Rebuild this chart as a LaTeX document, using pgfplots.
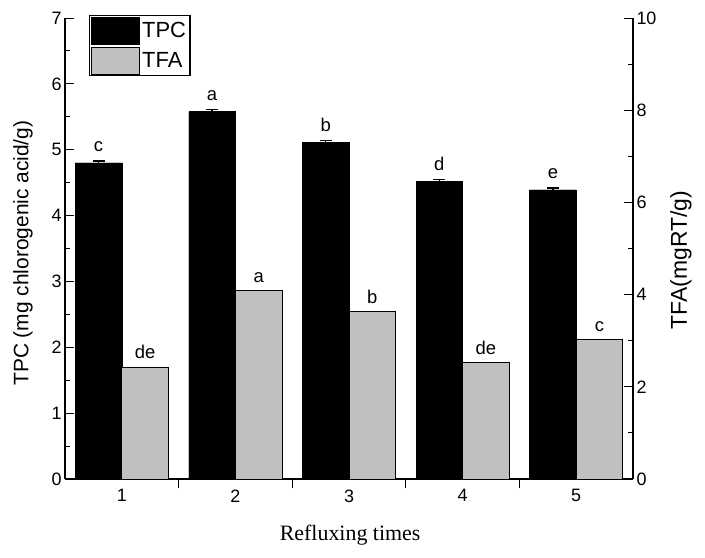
\documentclass[border=0pt]{standalone}
\usepackage{pgfplots}
\pgfplotsset{compat=1.18}
\usepackage{pgfplotstable}
\usepackage{fontspec}
\setmainfont{Liberation Sans}
\newfontfamily\timesfont{Liberation Serif}
\newfontfamily\legfont[Scale=1]{Liberation Sans}
\definecolor{barGray}{RGB}{192,192,192}

\pgfplotstableread{
x y e l
1 4.80 0.03 c
2 5.58 0.03 a
3 5.11 0.03 b
4 4.52 0.03 d
5 4.39 0.03 e
}\tpc
\pgfplotstableread{
x y l
1 2.43 de
2 4.09 a
3 3.64 b
4 2.52 de
5 3.02 c
}\tfa

\pgfplotsset{
  base/.style={
    scale only axis, width=568bp, height=461bp,
    xmin=0.5, xmax=5.5,
    tick align=inside,
    major tick length=9bp, minor tick length=5bp,
    tick style={black, line width=0.9pt},
    axis line style={black, line width=1.1pt},
    ticklabel style={font=\fontsize{18}{18}\selectfont},
    /pgf/number format/assume math mode=true,
    ybar, bar width=0.41,
  }
}

\begin{document}
\begin{tikzpicture}
\useasboundingbox (-65bp,-79bp) rectangle (640bp,479bp);
\begin{axis}[base,
  ymin=0, ymax=7, ytick={0,...,7}, minor y tick num=1,
  axis x line*=bottom, axis y line*=left,
  xtick={1.5,2.5,3.5,4.5}, xticklabels={},
  extra x ticks={1,2,3,4,5},
  extra x tick style={major tick length=0pt},
  xticklabel style={yshift=-7bp},
  ylabel={TPC (mg chlorogenic acid/g)},
  ylabel style={at={(axis description cs:-0.074,0.49)}, anchor=center, font=\fontsize{21}{21}\selectfont},
  xlabel={\timesfont Refluxing times},
  xlabel style={at={(axis description cs:0.502,-0.122)}, anchor=center, font=\fontsize{22}{22}\selectfont},
  legend style={at={(rel axis cs:0.042,1.0065)}, anchor=north west, draw=black, line width=1.1pt,
    inner xsep=2bp, inner ysep=1bp, row sep=2.5bp,
    nodes={font=\fontsize{22}{22}\selectfont},
    cells={anchor=west}},
  legend image code/.code={\draw[#1, line width=0.8pt] (0bp,-13.5bp) rectangle (48bp,13.5bp);},
]
\addplot[fill=black, draw=black, bar shift=-0.205,
  error bars/.cd, y dir=plus, y explicit,
  error bar style={line width=1.5pt, black},
  error mark options={rotate=90, mark size=6bp, line width=1.5pt, black}]
  table[x=x, y=y, y error=e] {\tpc};
\addlegendentry{\fontsize{22}{22}\selectfont TPC}
\addplot[fill=black, draw=none, bar shift=-0.205, forget plot,
  nodes near coords, point meta=explicit symbolic,
  every node near coord/.append style={anchor=base, yshift=11bp, inner sep=0pt, font=\fontsize{18.5}{18.5}\selectfont, black}]
  table[x=x, y=y, meta=l] {\tpc};
\addlegendimage{fill=barGray, draw=black}
\addlegendentry{\fontsize{22}{22}\selectfont TFA}
\end{axis}
\begin{axis}[base,
  ymin=0, ymax=10, ytick={0,2,...,10}, minor y tick num=1,
  axis x line=none, axis y line*=right,
  ylabel={TFA(mgRT/g)},
  ylabel style={at={(axis description cs:1.0845,0.475)}, anchor=center, font=\fontsize{23}{23}\selectfont},
]
\addplot[fill=barGray, draw=black, line width=0.8pt, bar shift=0.205,
  nodes near coords, point meta=explicit symbolic,
  every node near coord/.append style={anchor=base, yshift=8bp, inner sep=0pt, font=\fontsize{18.5}{18.5}\selectfont, black}]
  table[x=x, y=y, meta=l] {\tfa};
\end{axis}
\end{tikzpicture}
\end{document}
